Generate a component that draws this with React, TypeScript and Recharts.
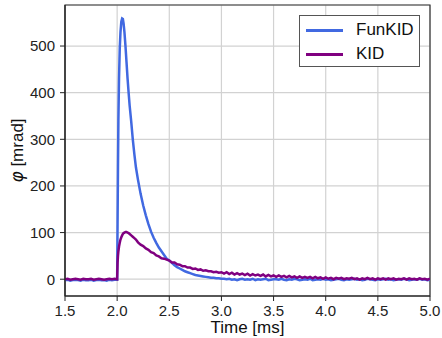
import React from "react";
import { LineChart, Line, XAxis, YAxis, CartesianGrid, Legend, ReferenceArea } from "recharts";

const timeMs = [
  1.5, 1.525, 1.55, 1.575, 1.6, 1.625, 1.65, 1.675, 1.7, 1.725, 1.75, 1.775, 1.8, 1.825, 1.85, 1.875, 1.9, 1.925, 1.95, 1.975, 2.0,
  2.004, 2.008, 2.012, 2.018, 2.025, 2.032, 2.04, 2.048, 2.055, 2.062, 2.07, 2.08, 2.09, 2.1, 2.11, 2.12, 2.135, 2.15, 2.165, 2.18, 2.2,
  2.225, 2.25, 2.275, 2.3, 2.325, 2.35, 2.375, 2.4, 2.425, 2.45, 2.475, 2.5,
  2.525, 2.55, 2.575, 2.6, 2.625, 2.65, 2.675, 2.7, 2.725, 2.75, 2.775, 2.8, 2.825, 2.85, 2.875, 2.9, 2.925, 2.95, 2.975, 3.0,
  3.025, 3.05, 3.075, 3.1, 3.125, 3.15, 3.175, 3.2, 3.225, 3.25, 3.275, 3.3, 3.325, 3.35, 3.375, 3.4, 3.425, 3.45, 3.475, 3.5,
  3.525, 3.55, 3.575, 3.6, 3.625, 3.65, 3.675, 3.7, 3.725, 3.75, 3.775, 3.8, 3.825, 3.85, 3.875, 3.9, 3.925, 3.95, 3.975, 4.0,
  4.025, 4.05, 4.075, 4.1, 4.125, 4.15, 4.175, 4.2, 4.225, 4.25, 4.275, 4.3, 4.325, 4.35, 4.375, 4.4, 4.425, 4.45, 4.475, 4.5,
  4.525, 4.55, 4.575, 4.6, 4.625, 4.65, 4.675, 4.7, 4.725, 4.75, 4.775, 4.8, 4.825, 4.85, 4.875, 4.9, 4.925, 4.95, 4.975, 5.0,
];

const funKid = [
  -2, -1, -3, -2, -1, -2, -3, -1, -2, -2, -1, -3, -2, -1, -2, -2, -3, -1, -2, -1, -1,
  120, 240, 340, 430, 495, 530, 552, 559, 558, 548, 530, 500, 465, 430, 400, 372, 338, 300, 268, 240, 213,
  183, 158, 137, 118, 102, 89, 78, 68, 60, 52, 44, 40,
  35, 30, 26, 23, 20, 17, 15, 13, 11, 9, 8, 7, 6, 5, 4, 3, 3, 2, 2, 1,
  1, 0, 1, -1, 0, -2, 0, 1, -1, 0, -1, 1, -2, 0, -1, 0, 1, -2, -1, 0,
  0, -1, 1, -1, -2, 0, -1, 1, 0, -2, -1, 0, -1, 1, -2, -1, 0, -1, 1, -1,
  0, -2, -1, 0, 1, -1, -2, 0, -1, 0, 1, -1, 0, -2, -1, 1, 0, -1, -2, 0,
  -1, 0, 1, -1, 0, -2, -1, 0, -1, 1, 0, -2, -1, 0, -1, 1, -1, 0, -2, -1,
];

const kid = [
  0, 1, -1, 0, 1, 0, -1, 1, 0, 0, 1, -1, 0, 1, 0, -1, 0, 1, 0, 1, 0,
  35, 50, 60, 70, 78, 85, 90, 94, 97, 99, 100, 101, 101, 100, 99, 97, 94, 91, 88, 85, 79,
  74, 71, 66, 63, 58, 56, 51, 49, 45, 44, 42, 40,
  36, 36, 32, 31, 28, 28, 25, 25, 22, 23, 20, 21, 18, 19, 17, 17, 15, 16, 14, 15,
  12, 15, 11, 14, 10, 13, 10, 12, 9, 12, 8, 11, 8, 10, 7, 10, 6, 9, 6, 8,
  5, 8, 5, 7, 4, 7, 4, 6, 3, 6, 3, 5, 3, 5, 2, 5, 2, 4, 1, 4,
  1, 3, 0, 3, 1, 3, 0, 2, 1, 3, 0, 2, -1, 2, 0, 3, 0, 2, -1, 2,
  0, 2, -1, 2, 0, 2, -1, 1, 0, 2, -1, 2, 0, 1, -1, 2, 0, 1, -1, 1,
];

const xTicks = [1.5, 2.0, 2.5, 3.0, 3.5, 4.0, 4.5, 5.0];
const yTicks = [0, 100, 200, 300, 400, 500];
const seriesNames = ["FunKID", "KID"];
const seriesColors = ["#4169E1", "#800080"];

const data = timeMs.map((t, i) => ({ t, funKid: funKid[i], kid: kid[i] }));

const FONT = "'Liberation Sans', Arial, sans-serif";
const X_DOMAIN: [number, number] = [1.5, 5.0];
const Y_DOMAIN: [number, number] = [-36, 588];

const LegendBox = () => (
  <div
    style={{
      width: 121,
      height: 52,
      border: "1px solid #555",
      background: "#fff",
      boxSizing: "border-box",
      fontFamily: FONT,
      fontSize: 17,
      color: "#111",
      position: "relative",
    }}
  >
    {seriesNames.map((name, i) => (
      <div key={name} style={{ position: "absolute", left: 6, top: 3 + i * 24, height: 22, display: "flex", alignItems: "center" }}>
        <div style={{ width: 37, height: 3, background: seriesColors[i] }} />
        <span style={{ marginLeft: 13 }}>{name}</span>
      </div>
    ))}
  </div>
);

const YLabel = (props: any) => {
  const vb = props.viewBox || { x: 0, y: 5, width: 65, height: 291 };
  const cx = 17;
  const cy = vb.y + vb.height / 2;
  return (
    <text
      x={cx}
      y={cy}
      transform={`rotate(-90, ${cx}, ${cy})`}
      textAnchor="middle"
      dominantBaseline="central"
      fontFamily={FONT}
      fontSize={17}
      fill="#111"
    >
      <tspan fontStyle="italic" fontFamily="'DejaVu Sans', sans-serif">φ</tspan>
      <tspan> [mrad]</tspan>
    </text>
  );
};

export default function App() {
  return (
    <div style={{ position: "absolute", left: 0, top: 0, width: 442, height: 338, background: "#fff" }}>
      <LineChart width={442} height={338} data={data} margin={{ top: 5, right: 12, bottom: 0, left: 0 }}>
        <CartesianGrid stroke="#d2d2d2" strokeWidth={1.2} />
        <XAxis
          dataKey="t"
          type="number"
          domain={X_DOMAIN}
          ticks={xTicks}
          allowDataOverflow
          tickFormatter={(v: number) => v.toFixed(1)}
          height={42}
          tickSize={5}
          tickMargin={4}
          tick={{ fontFamily: FONT, fontSize: 15, fill: "#222" }}
          stroke="#222"
          axisLine={{ stroke: "#222", strokeWidth: 1.2 }}
          tickLine={{ stroke: "#222", strokeWidth: 1 }}
          label={{ value: "Time [ms]", position: "insideBottom", offset: 5, fontFamily: FONT, fontSize: 17, fill: "#111" }}
        />
        <YAxis
          type="number"
          domain={Y_DOMAIN}
          ticks={yTicks}
          allowDataOverflow
          width={65}
          tickSize={5}
          tickMargin={5}
          tick={{ fontFamily: FONT, fontSize: 15, fill: "#222" }}
          axisLine={{ stroke: "#222", strokeWidth: 1.2 }}
          tickLine={{ stroke: "#222", strokeWidth: 1 }}
          label={<YLabel />}
        />
        <Line
          type="linear"
          dataKey="funKid"
          name={seriesNames[0]}
          stroke={seriesColors[0]}
          strokeWidth={2.5}
          dot={false}
          isAnimationActive={false}
        />
        <Line
          type="linear"
          dataKey="kid"
          name={seriesNames[1]}
          stroke={seriesColors[1]}
          strokeWidth={2.5}
          dot={false}
          isAnimationActive={false}
        />
        <ReferenceArea
          x1={X_DOMAIN[0]}
          x2={X_DOMAIN[1]}
          y1={Y_DOMAIN[0]}
          y2={Y_DOMAIN[1]}
          fill="none"
          stroke="#333"
          strokeWidth={1.2}
          ifOverflow="visible"
        />
        <Legend
          layout="vertical"
          align="center"
          verticalAlign="middle"
          content={() => <LegendBox />}
          wrapperStyle={{ position: "absolute", left: 299, top: 15, width: 121, height: 52 }}
        />
      </LineChart>
    </div>
  );
}
